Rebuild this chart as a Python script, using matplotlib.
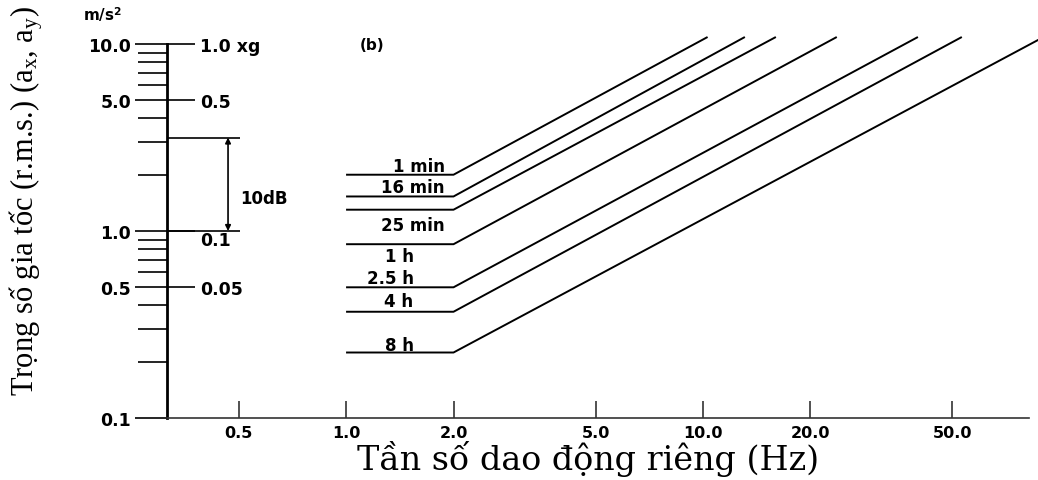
import numpy as np
import matplotlib.pyplot as plt
from matplotlib.ticker import FixedLocator, NullLocator, LogLocator

plt.rcParams['font.family'] = 'DejaVu Sans'
plt.rcParams['mathtext.fontset'] = 'custom'
plt.rcParams['mathtext.rm'] = 'Liberation Serif'
plt.rcParams['mathtext.it'] = 'Liberation Serif:italic'

# exposure time boundaries: flat between 1 and 2 Hz, then rising
exposure = ['1 min', '16 min', '25 min', '1 h', '2.5 h', '4 h', '8 h']
flat_level = [2.0, 1.53, 1.3, 0.85, 0.5, 0.37, 0.224]   # m/s^2
end_freq = [10.3, 13.1, 16.0, 23.7, 40.0, 53.1, 90.0]   # Hz
end_level = 10.9
flat_start = 1.0
corner = 2.0

x_ticks = [0.5, 1.0, 2.0, 5.0, 10.0, 20.0, 50.0]
x_labels = ['0.5', '1.0', '2.0', '5.0', '10.0', '20.0', '50.0']
y_ticks = [0.1, 0.5, 1.0, 5.0, 10.0]
y_labels = ['0.1', '0.5', '1.0', '5.0', '10.0']
g_ticks = [0.5, 1.0, 5.0, 10.0]
g_labels = ['0.05', '0.1', '0.5', '1.0 xg']

# label placement (pixels from the 2 Hz corner)
label_dx = [-9, -9, -9, -40, -40, -40, -40]
label_dy = [9, 9, -15, -12, 9, 11, 8]

fig = plt.figure(figsize=(10.38, 4.81), dpi=100)
ax = fig.add_axes([167/1038, 62/481, 1 - 167/1038, (419 - 30)/481])
ax.set_xscale('log')
ax.set_yscale('log')
ax.set_xlim(0.315, 86.8)
ax.set_ylim(0.1, 12.03)

for name, lvl, fe, dx, dy in zip(exposure, flat_level, end_freq, label_dx, label_dy):
    ax.plot([flat_start, corner, fe], [lvl, lvl, end_level], color='black', lw=1.4,
            solid_capstyle='butt')
    ax.annotate(name, (corner, lvl), xytext=(dx, dy), textcoords='offset pixels',
                ha='right', va='center', fontsize=12, fontweight='bold')

for s in ['top', 'right']:
    ax.spines[s].set_visible(False)
ax.spines['left'].set_linewidth(2.0)
ax.spines['left'].set_bounds(0.1, 10.0)
ax.spines['bottom'].set_linewidth(1.2)
ax.spines['bottom'].set_color('#333333')
ax.spines['bottom'].set_bounds(0.315, 82)

ax.xaxis.set_major_locator(FixedLocator(x_ticks))
ax.xaxis.set_minor_locator(NullLocator())
ax.set_xticklabels(x_labels)
ax.tick_params(axis='x', direction='in', length=12, width=1.2, pad=5,
               labelsize=11.5, color='#333333')
for t in ax.get_xticklabels():
    t.set_fontweight('bold')

ax.yaxis.set_major_locator(FixedLocator(y_ticks))
ax.yaxis.set_minor_locator(LogLocator(base=10, subs=np.arange(2, 10)))
ax.yaxis.set_minor_formatter(plt.NullFormatter())
ax.set_yticklabels(y_labels)
ax.tick_params(axis='y', which='major', direction='out', length=23, width=1.2,
               pad=3, labelsize=12.5)
ax.tick_params(axis='y', which='minor', direction='out', length=21, width=1.2)
for t in ax.get_yticklabels():
    t.set_fontweight('bold')

# second scale in g, drawn on the right side of the same spine
tw = ax.twinx()
tw.set_yscale('log')
tw.set_ylim(ax.get_ylim())
tw.spines['right'].set_position(('axes', 0))
for s in tw.spines.values():
    s.set_visible(False)
tw.yaxis.set_major_locator(FixedLocator(g_ticks))
tw.yaxis.set_minor_locator(NullLocator())
tw.set_yticklabels(g_labels)
tw.tick_params(axis='y', direction='out', length=20, width=1.2, pad=4, labelsize=12.5)
for t in tw.get_yticklabels():
    t.set_fontweight('bold')
tw.get_yticklabels()[1].set_verticalalignment('top')

# 10 dB reference
db_top = 10 ** (10 / 20)
ax.hlines([1.0, db_top], 0.315, 0.505, color='black', lw=1.2)
ax.annotate('', xy=(0.467, 1.0), xytext=(0.467, db_top),
            arrowprops=dict(arrowstyle='<|-|>', color='black', lw=1.2,
                            mutation_scale=8, shrinkA=0, shrinkB=0))
ax.text(0.505, 1.5, '10dB', ha='left', va='center', fontsize=12, fontweight='bold')

ax.text(1.09, 10.0, '(b)', ha='left', va='center', fontsize=11, fontweight='bold')
fig.text(83/1038, 1 - 15/481, 'm/s$^\\mathbf{2}$', ha='left', va='center',
         fontsize=11, fontweight='bold')

fig.text(26/1038, 1 - 201/481,
         'Trọng số gia tốc (r.m.s.) (a$_\\mathrm{x}$, a$_\\mathrm{y}$)',
         rotation=90, ha='center', va='center', fontsize=22, family='Liberation Serif')
fig.text(588/1038, 1 - 470/481, 'Tần số dao động riêng (Hz)', ha='center',
         va='baseline', fontsize=24, family='DejaVu Serif')

fig.savefig('out.png', dpi=100)
